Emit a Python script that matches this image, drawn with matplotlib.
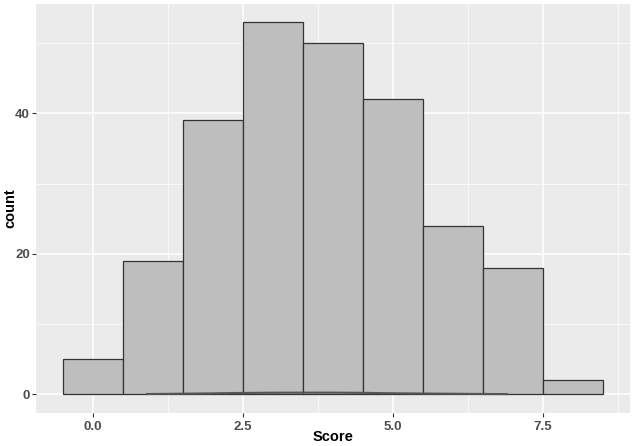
import numpy as np
import matplotlib.pyplot as plt

plt.rcParams['font.family'] = ['Liberation Sans', 'DejaVu Sans']

# histogram bins (centre) and counts
bin_centres = [0, 1, 2, 3, 4, 5, 6, 7, 8]
counts = [5, 19, 39, 53, 50, 42, 24, 18, 2]

# density curve drawn on the count scale (almost flat near 0)
dens_x = [0.9, 1.5, 2.0, 2.4, 3.0, 3.5, 4.0, 4.5, 4.9, 5.5, 6.0, 6.5, 6.9]
dens_y = [0.05, 0.10, 0.15, 0.20, 0.24, 0.25, 0.25, 0.22, 0.17, 0.12, 0.09, 0.06, 0.04]

fig = plt.figure(figsize=(6.34, 4.46), dpi=100)
ax = fig.add_axes([36/634, 33/446, 594/634, 409.5/446])
ax.set_facecolor('#ebebeb')

ax.bar(bin_centres, counts, width=1, color='#bebebe', edgecolor='#333333',
       linewidth=0.9, zorder=3)
ax.plot(dens_x, dens_y, color='#555555', linewidth=1.5, zorder=4)

ax.set_xlim(-0.95, 8.95)
ax.set_ylim(-2.65, 55.65)
ax.set_xticks([0, 2.5, 5.0, 7.5])
ax.set_xticklabels(['0.0', '2.5', '5.0', '7.5'])
ax.set_yticks([0, 20, 40])
ax.set_xticks([1.25, 3.75, 6.25, 8.75], minor=True)
ax.set_yticks([10, 30, 50], minor=True)

ax.grid(which='major', color='white', linewidth=1.1, zorder=0)
ax.grid(which='minor', color='white', linewidth=0.5, zorder=0)
ax.set_axisbelow(True)
for s in ax.spines.values():
    s.set_visible(False)

ax.tick_params(which='major', length=3, color='#333333', labelsize=9.5,
               labelcolor='#4d4d4d')
ax.tick_params(axis='x', which='major', pad=2.5)
ax.tick_params(axis='y', which='major', pad=1.5)
ax.tick_params(which='minor', length=0)
for lab in ax.get_xticklabels() + ax.get_yticklabels():
    lab.set_fontweight('bold')

ax.set_xlabel('Score', fontsize=10.5, fontweight='bold', va='center')
ax.set_ylabel('count', fontsize=10.5, fontweight='bold', va='center')
ax.xaxis.set_label_coords(0.5, -24/409.5)
ax.yaxis.set_label_coords(-26/594, 0.5)

fig.savefig('out.png', dpi=100)
